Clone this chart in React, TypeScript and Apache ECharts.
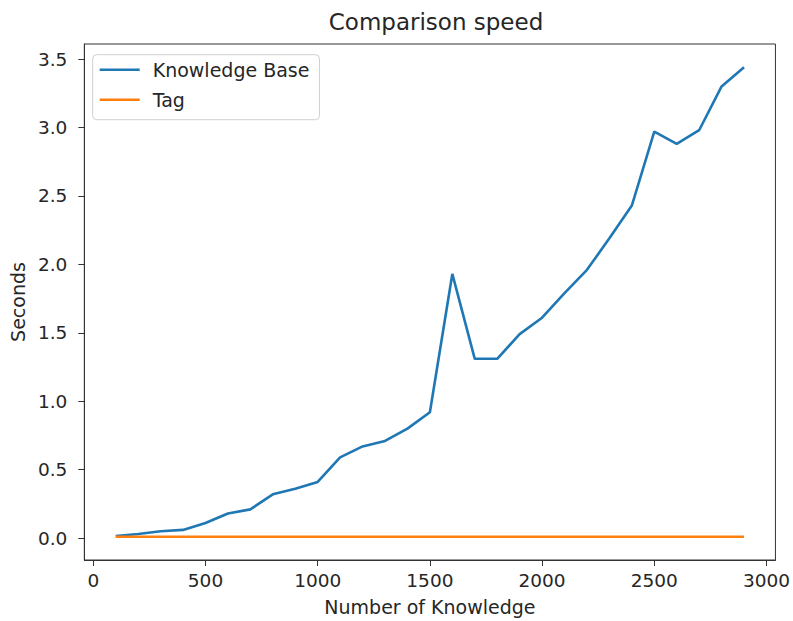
import React, { useEffect, useRef } from "react";
import * as echarts from "echarts";

const knowledgeCounts = [
  100, 200, 300, 400, 500, 600, 700, 800, 900, 1000, 1100, 1200, 1300, 1400, 1500,
  1600, 1700, 1800, 1900, 2000, 2100, 2200, 2300, 2400, 2500, 2600, 2700, 2800, 2900,
];
const knowledgeBaseSeconds = [
  0.015, 0.03, 0.05, 0.06, 0.11, 0.18, 0.21, 0.32, 0.36, 0.41, 0.59, 0.67, 0.71, 0.8, 0.92,
  1.93, 1.31, 1.31, 1.49, 1.61, 1.79, 1.96, 2.19, 2.43, 2.97, 2.88, 2.98, 3.3, 3.44,
];
const tagSeconds = [
  0.01, 0.01, 0.01, 0.01, 0.01, 0.01, 0.01, 0.01, 0.01, 0.01, 0.01, 0.01, 0.01, 0.01, 0.01,
  0.01, 0.01, 0.01, 0.01, 0.01, 0.01, 0.01, 0.01, 0.01, 0.01, 0.01, 0.01, 0.01, 0.01,
];
const xTicks = [0, 500, 1000, 1500, 2000, 2500, 3000];
const yTicks = [0, 0.5, 1, 1.5, 2, 2.5, 3, 3.5];

const FONT = "DejaVu Sans";
const TEXT = "#262626";
const SPINE = "#333";

export default function App() {
  const ref = useRef<HTMLDivElement>(null);
  useEffect(() => {
    if (!ref.current) return;
    const chart = echarts.init(ref.current, null, { renderer: "svg" });
    chart.setOption({
      animation: false,
      backgroundColor: "#fff",
      textStyle: { fontFamily: FONT },
      title: {
        text: "Comparison speed",
        left: 431,
        textAlign: "center",
        top: 5,
        textStyle: { fontFamily: FONT, fontSize: 23, fontWeight: "normal", color: TEXT },
      },
      legend: {
        orient: "vertical",
        left: 92.7,
        top: 54.7,
        padding: [1, 10, 6, 7],
        icon: "rect",
        itemWidth: 40,
        itemHeight: 2.5,
        itemGap: 2,
        borderColor: "#d0d0d0",
        borderWidth: 1,
        borderRadius: 4,
        backgroundColor: "rgba(255,255,255,0.8)",
        textStyle: { fontFamily: FONT, fontSize: 19, color: TEXT, lineHeight: 28, padding: [0, 0, 0, 8] },
        data: ["Knowledge Base", "Tag"],
      },
      grid: {
        left: 83,
        right: 14,
        top: 44,
        bottom: 58,
        show: true,
        borderColor: SPINE,
        borderWidth: 1,
        backgroundColor: "transparent",
        containLabel: false,
      },
      xAxis: {
        type: "value",
        min: -40,
        max: 3040,
        name: "Number of Knowledge",
        nameLocation: "middle",
        nameGap: 37,
        nameTextStyle: { fontFamily: FONT, fontSize: 19, color: TEXT },
        axisLine: { show: true, onZero: false, lineStyle: { color: SPINE, width: 1 } },
        axisTick: { show: true, length: 6, customValues: xTicks, lineStyle: { color: SPINE } },
        axisLabel: {
          customValues: xTicks,
          margin: 11,
          fontFamily: FONT,
          fontSize: 18.5,
          color: TEXT,
          formatter: (v: number) => String(v),
        },
        splitLine: { show: false },
      },
      yAxis: {
        type: "value",
        min: -0.16,
        max: 3.61,
        name: "Seconds",
        nameLocation: "middle",
        nameGap: 57,
        nameTextStyle: { fontFamily: FONT, fontSize: 19, color: TEXT },
        axisLine: { show: true, onZero: false, lineStyle: { color: SPINE, width: 1 } },
        axisTick: { show: true, length: 6, customValues: yTicks, lineStyle: { color: SPINE } },
        axisLabel: {
          customValues: yTicks,
          margin: 17,
          fontFamily: FONT,
          fontSize: 18.5,
          color: TEXT,
          formatter: (v: number) => v.toFixed(1),
        },
        splitLine: { show: false },
      },
      series: [
        {
          name: "Knowledge Base",
          type: "line",
          symbol: "none",
          color: "#1f77b4",
          lineStyle: { width: 2.6, color: "#1f77b4" },
          data: knowledgeCounts.map((x, i) => [x, knowledgeBaseSeconds[i]]),
        },
        {
          name: "Tag",
          type: "line",
          symbol: "none",
          color: "#ff7f0e",
          lineStyle: { width: 2.6, color: "#ff7f0e" },
          data: knowledgeCounts.map((x, i) => [x, tagSeconds[i]]),
        },
      ],
    });
    return () => chart.dispose();
  }, []);
  return (
    <div
      ref={ref}
      style={{ position: "fixed", left: 0, top: 0, width: 793, height: 621 }}
    />
  );
}
